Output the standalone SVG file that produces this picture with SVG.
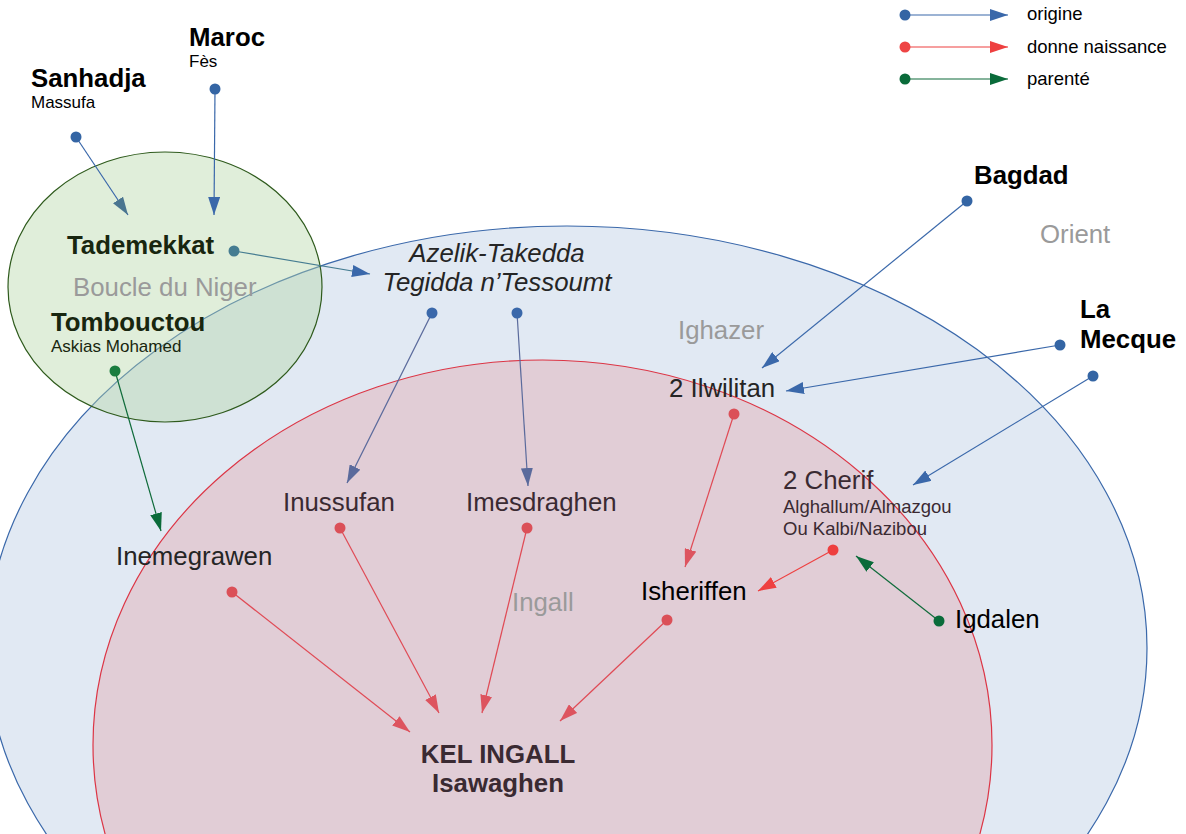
<svg xmlns="http://www.w3.org/2000/svg" width="1186" height="834" viewBox="0 0 1186 834">
<style>
  text { font-family: "Liberation Sans", Arial, sans-serif; }
  .big { font-size: 25.8px; }
  .bold { font-weight: bold; }
  .small { font-size: 17px; }
  .mid { font-size: 18.5px; }
  .gray { fill: #9a9a9a; }
  .blk { fill: #000000; }
  .dg { fill: #18260f; }
  .dk { fill: #252525; }
  .rd { fill: #3a2a32; }
  .it { font-style: italic; }
  .c-blue { stroke: #3a68aa; }
  .c-red { stroke: #e04a55; }
  .c-bred { stroke: #ee4040; }
  .c-green { stroke: #0f6b3a; }
  .c-teal { stroke: #457c91; }
  .c-slate { stroke: #5a6a9c; }
  line { stroke-width: 1.2; fill: none; }
</style>
<defs>
  <marker id="m-blue" viewBox="0 0 18 12" refX="18" refY="6" markerWidth="18" markerHeight="12" markerUnits="userSpaceOnUse" orient="auto"><path d="M0,0 L18,6 L0,12 z" fill="#3a68aa"/></marker>
  <marker id="m-red" viewBox="0 0 18 12" refX="18" refY="6" markerWidth="18" markerHeight="12" markerUnits="userSpaceOnUse" orient="auto"><path d="M0,0 L18,6 L0,12 z" fill="#dd545f"/></marker>
  <marker id="m-bred" viewBox="0 0 18 12" refX="18" refY="6" markerWidth="18" markerHeight="12" markerUnits="userSpaceOnUse" orient="auto"><path d="M0,0 L18,6 L0,12 z" fill="#ee4040"/></marker>
  <marker id="m-green" viewBox="0 0 18 12" refX="18" refY="6" markerWidth="18" markerHeight="12" markerUnits="userSpaceOnUse" orient="auto"><path d="M0,0 L18,6 L0,12 z" fill="#0a6b3a"/></marker>
  <marker id="m-teal" viewBox="0 0 18 12" refX="18" refY="6" markerWidth="18" markerHeight="12" markerUnits="userSpaceOnUse" orient="auto"><path d="M0,0 L18,6 L0,12 z" fill="#4a7590"/></marker>
  <marker id="m-slate" viewBox="0 0 18 12" refX="18" refY="6" markerWidth="18" markerHeight="12" markerUnits="userSpaceOnUse" orient="auto"><path d="M0,0 L18,6 L0,12 z" fill="#5a6a9c"/></marker>
</defs>
<rect width="1186" height="834" fill="#ffffff"/>

<g id="regions">
  <ellipse id="region-orient" cx="567" cy="648" rx="580" ry="422" fill="#e1e9f3" stroke="#3a68aa" stroke-width="1.2"/>
  <ellipse id="region-ingall" cx="542.5" cy="745" rx="449.5" ry="385" fill="#e1cdd6" stroke="#dc3545" stroke-width="1.2"/>
  <ellipse id="region-niger" cx="165" cy="287" rx="157" ry="135" fill="#b6d7a8" fill-opacity="0.42" stroke="#2e5a1c" stroke-width="1.2"/>
  <text class="big gray" x="73" y="296">Boucle du Niger</text>
  <text class="big gray" x="1040" y="243">Orient</text>
  <text class="big gray" x="678" y="339">Ighazer</text>
  <text class="big gray" x="512" y="611" fill="#9aa0a6">Ingall</text>
</g>

<g id="connectors">
  <line class="c-blue" x1="76" y1="137" x2="128" y2="215" marker-end="url(#m-teal)"/>
  <line class="c-blue" x1="215" y1="89" x2="214" y2="215" marker-end="url(#m-blue)"/>
  <line class="c-teal" x1="234" y1="251" x2="370" y2="274" marker-end="url(#m-blue)"/>
  <line class="c-green" x1="115" y1="371" x2="161" y2="531" marker-end="url(#m-green)"/>
  <line class="c-slate" x1="432" y1="313" x2="347" y2="483" marker-end="url(#m-slate)"/>
  <line class="c-slate" x1="517" y1="313" x2="528" y2="486" marker-end="url(#m-slate)"/>
  <line class="c-blue" x1="967" y1="201" x2="762" y2="368" marker-end="url(#m-blue)"/>
  <line class="c-blue" x1="1060" y1="345" x2="786" y2="391" marker-end="url(#m-blue)"/>
  <line class="c-blue" x1="1093" y1="376" x2="913" y2="485" marker-end="url(#m-blue)"/>
  <line class="c-red" x1="734" y1="414" x2="685" y2="567" marker-end="url(#m-red)"/>
  <line class="c-bred" x1="833" y1="550" x2="758" y2="591" marker-end="url(#m-bred)"/>
  <line class="c-green" x1="939" y1="621" x2="856" y2="556" marker-end="url(#m-green)"/>
  <line class="c-red" x1="232" y1="592" x2="410" y2="732" marker-end="url(#m-red)"/>
  <line class="c-red" x1="340" y1="528" x2="439" y2="713" marker-end="url(#m-red)"/>
  <line class="c-red" x1="527" y1="528" x2="482" y2="713" marker-end="url(#m-red)"/>
  <line class="c-red" x1="667" y1="620" x2="560" y2="721" marker-end="url(#m-red)"/>
  <!-- legend -->
  <line class="c-blue" x1="905" y1="15" x2="1008" y2="15" marker-end="url(#m-blue)"/>
  <line class="c-bred" x1="905" y1="47" x2="1008" y2="47" marker-end="url(#m-bred)"/>
  <line class="c-green" x1="905" y1="79" x2="1008" y2="79" marker-end="url(#m-green)"/>
</g>

<g id="node-sanhadja">
  <text class="big bold blk" x="31" y="87">Sanhadja</text>
  <text class="small blk" x="31" y="108">Massufa</text>
  <circle cx="76" cy="137" r="5.5" fill="#3465a4"/>
</g>
<g id="node-maroc">
  <text class="big bold blk" x="189" y="46">Maroc</text>
  <text class="small blk" x="189" y="67">Fès</text>
  <circle cx="215" cy="89" r="5.5" fill="#3465a4"/>
</g>
<g id="node-tademekkat">
  <text class="big bold dg" x="67" y="254">Tademekkat</text>
  <circle cx="234" cy="251" r="5.5" fill="#457c91"/>
</g>
<g id="node-tombouctou">
  <text class="big bold dg" x="51" y="331">Tombouctou</text>
  <text class="small dg" x="51" y="352">Askias Mohamed</text>
  <circle cx="115" cy="371" r="5.5" fill="#1a7d3f"/>
</g>
<g id="node-azelik">
  <text class="big it dk" x="497" y="262" text-anchor="middle">Azelik-Takedda</text>
  <text class="big it dk" x="497" y="291" text-anchor="middle">Tegidda n’Tessoumt</text>
  <circle cx="432" cy="313" r="5.5" fill="#3a68aa"/>
  <circle cx="517" cy="313" r="5.5" fill="#3a68aa"/>
</g>
<g id="node-bagdad">
  <text class="big bold blk" x="974" y="184">Bagdad</text>
  <circle cx="967" cy="201" r="5.5" fill="#3465a4"/>
</g>
<g id="node-lamecque">
  <text class="big bold blk" x="1080" y="318">La</text>
  <text class="big bold blk" x="1080" y="348">Mecque</text>
  <circle cx="1060" cy="345" r="5.5" fill="#3465a4"/>
  <circle cx="1093" cy="376" r="5.5" fill="#3465a4"/>
</g>
<g id="node-ilwilitan">
  <text class="big dk" x="669" y="397">2 Ilwilitan</text>
  <circle cx="734" cy="414" r="5.5" fill="#db5058"/>
</g>
<g id="node-cherif">
  <text class="big rd" x="783" y="489">2 Cherif</text>
  <text class="mid rd" x="783" y="513">Alghallum/Almazgou</text>
  <text class="mid rd" x="783" y="535">Ou Kalbi/Nazibou</text>
  <circle cx="833" cy="550" r="5.5" fill="#ee3f3f"/>
</g>
<g id="node-isheriffen">
  <text class="big blk" x="641" y="600">Isheriffen</text>
  <circle cx="667" cy="620" r="5.5" fill="#db5058"/>
</g>
<g id="node-igdalen">
  <text class="big blk" x="955" y="628">Igdalen</text>
  <circle cx="939" cy="621" r="5.5" fill="#0a6b3a"/>
</g>
<g id="node-inussufan">
  <text class="big rd" x="283" y="511">Inussufan</text>
  <circle cx="340" cy="528" r="5.5" fill="#db5058"/>
</g>
<g id="node-imesdraghen">
  <text class="big rd" x="466" y="511">Imesdraghen</text>
  <circle cx="527" cy="528" r="5.5" fill="#db5058"/>
</g>
<g id="node-inemegrawen">
  <text class="big dk" x="116" y="565">Inemegrawen</text>
  <circle cx="232" cy="592" r="5.5" fill="#db5058"/>
</g>
<g id="node-kelingall">
  <text class="big bold rd" x="498" y="763" text-anchor="middle">KEL INGALL</text>
  <text class="big bold rd" x="498" y="792" text-anchor="middle">Isawaghen</text>
</g>

<g id="legend">
  <circle cx="905" cy="15" r="5.5" fill="#3465a4"/>
  <circle cx="905" cy="47" r="5.5" fill="#ee4444"/>
  <circle cx="905" cy="79" r="5.5" fill="#0a6b3a"/>
  <text class="mid blk" x="1027" y="20">origine</text>
  <text class="mid blk" x="1027" y="53">donne naissance</text>
  <text class="mid blk" x="1027" y="85">parenté</text>
</g>
</svg>
